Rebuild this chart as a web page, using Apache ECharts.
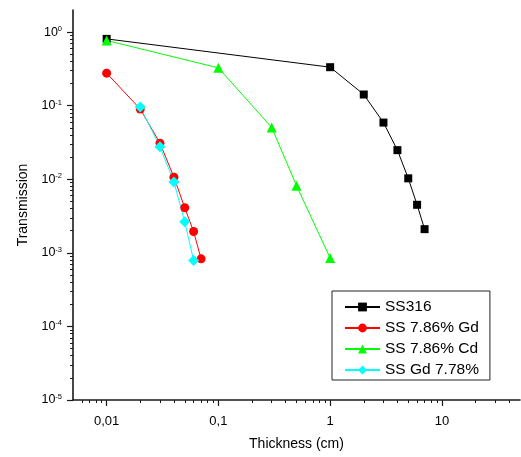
<!DOCTYPE html>
<html>
<head>
<meta charset="utf-8">
<script src="https://cdn.jsdelivr.net/npm/echarts@6/dist/echarts.min.js"></script>
<style>
html,body{margin:0;padding:0;background:#fff;}
#c{width:521px;height:457px;}
</style>
</head>
<body>
<div id="c"></div>
<script>
var seriesNames = ['SS316', 'SS 7.86% Gd', 'SS 7.86% Cd', 'SS Gd 7.78%'];

var ss316X = [0.01, 1, 2, 3, 4, 5, 6, 7];
var ss316Y = [0.81, 0.334, 0.142, 0.059, 0.0249, 0.0103, 0.0045, 0.0021];

var gdX = [0.01, 0.02, 0.03, 0.04, 0.05, 0.06, 0.07];
var gdY = [0.277, 0.09, 0.031, 0.0107, 0.0041, 0.00195, 0.00083];

var cdX = [0.01, 0.1, 0.3, 0.5, 1];
var cdY = [0.77, 0.327, 0.0506, 0.0082, 0.00085];

var gd2X = [0.02, 0.03, 0.04, 0.05, 0.06];
var gd2Y = [0.0957, 0.0277, 0.0092, 0.00265, 0.00079];

var xTickValues = [0.01, 0.1, 1, 10];
var xTickLabels = ['0,01', '0,1', '1', '10'];
var yTickValues = [1e-5, 1e-4, 1e-3, 1e-2, 1e-1, 1];
var yTickExps = [-5, -4, -3, -2, -1, 0];

var xRange = [0.005, 50];
var yRange = [1e-5, 2];

function pairs(xs, ys) { return xs.map(function (x, i) { return [x, ys[i]]; }); }
function minorTicks(range) {
  var out = [];
  var lo = Math.floor(Math.log10(range[0])), hi = Math.ceil(Math.log10(range[1]));
  for (var e = lo; e < hi; e++) {
    for (var k = 2; k <= 9; k++) {
      var v = parseFloat((k * Math.pow(10, e)).toPrecision(6));
      if (v > range[0] && v < range[1]) out.push(v);
    }
  }
  return out;
}
function nearestIndex(arr, v) {
  for (var i = 0; i < arr.length; i++) {
    if (Math.abs(Math.log10(arr[i]) - Math.log10(v)) < 1e-6) return i;
  }
  return -1;
}

var FONT = '"Liberation Sans", Arial, sans-serif';
var AX = '#1a1a1a';
var chart = echarts.init(document.getElementById('c'), null, {renderer: 'canvas'});

function mk(name, data, color, symbol, size) {
  return {
    name: name, type: 'line', data: data,
    xAxisIndex: 0, yAxisIndex: 0,
    symbol: symbol, symbolSize: size,
    itemStyle: {color: color},
    lineStyle: {color: color, width: 1},
    showAllSymbol: true, animation: false, z: 3
  };
}

chart.setOption({
  animation: false,
  textStyle: {fontFamily: FONT},
  grid: {left: 73, right: 1, top: 10, bottom: 57, containLabel: false},
  legend: {
    orient: 'vertical', left: 332, top: 291,
    data: seriesNames,
    itemWidth: 35, itemHeight: 11, itemGap: 5,
    padding: [8, 11, 2, 12],
    borderColor: '#222', borderWidth: 1,
    textStyle: {fontFamily: FONT, fontSize: 15.5, lineHeight: 14, color: '#000'}
  },
  xAxis: [{
    type: 'log', logBase: 10, min: xRange[0], max: xRange[1], position: 'bottom',
    name: 'Thickness (cm)', nameLocation: 'middle', nameGap: 37,
    nameTextStyle: {fontFamily: FONT, fontSize: 14, color: '#000'},
    axisLine: {show: true, lineStyle: {color: AX, width: 1.6}},
    axisTick: {show: true, inside: false, length: 6, customValues: xTickValues, lineStyle: {color: AX, width: 1.2}},
    minorTick: {show: false},
    splitLine: {show: false},
    axisLabel: {
      margin: 15, fontFamily: FONT, fontSize: 13, color: '#000',
      customValues: xTickValues,
      formatter: function (v) {
        var i = nearestIndex(xTickValues, v);
        return i < 0 ? '' : xTickLabels[i];
      }
    }
  }, {
    type: 'log', logBase: 10, min: xRange[0], max: xRange[1], position: 'bottom', offset: 0,
    axisLine: {show: false},
    axisTick: {show: true, inside: false, length: 3, customValues: minorTicks(xRange), lineStyle: {color: AX, width: 1}},
    axisLabel: {show: false},
    splitLine: {show: false}
  }],
  yAxis: [{
    type: 'log', logBase: 10, min: yRange[0], max: yRange[1], position: 'left',
    name: 'Transmission', nameLocation: 'middle', nameGap: 43, nameRotate: 90,
    nameTextStyle: {fontFamily: FONT, fontSize: 14, color: '#000'},
    axisLine: {show: true, lineStyle: {color: AX, width: 1.6}},
    axisTick: {show: true, inside: false, length: 6, customValues: yTickValues, lineStyle: {color: AX, width: 1.2}},
    minorTick: {show: false},
    splitLine: {show: false},
    axisLabel: {
      margin: 11, fontFamily: FONT, color: '#000',
      customValues: yTickValues,
      formatter: function (v) {
        var i = nearestIndex(yTickValues, v);
        if (i < 0) return '';
        return '{b|10}{s|' + yTickExps[i] + '}';
      },
      rich: {
        b: {fontSize: 12.5, lineHeight: 14, fontFamily: FONT, color: '#000'},
        s: {fontSize: 7.5, lineHeight: 14, verticalAlign: 'top', fontFamily: FONT, color: '#000', padding: [0, 0, 4, 0]}
      }
    }
  }, {
    type: 'log', logBase: 10, min: yRange[0], max: yRange[1], position: 'left', offset: 0,
    axisLine: {show: false},
    axisTick: {show: true, inside: false, length: 3, customValues: minorTicks(yRange), lineStyle: {color: AX, width: 1}},
    axisLabel: {show: false},
    splitLine: {show: false}
  }],
  series: [
    mk(seriesNames[0], pairs(ss316X, ss316Y), '#000000', 'rect', 8),
    mk(seriesNames[1], pairs(gdX, gdY), '#ff0000', 'circle', 9),
    mk(seriesNames[2], pairs(cdX, cdY), '#00ff00', 'triangle', 10),
    mk(seriesNames[3], pairs(gd2X, gd2Y), '#00ffff', 'diamond', 11)
  ]
});
</script>
</body>
</html>
